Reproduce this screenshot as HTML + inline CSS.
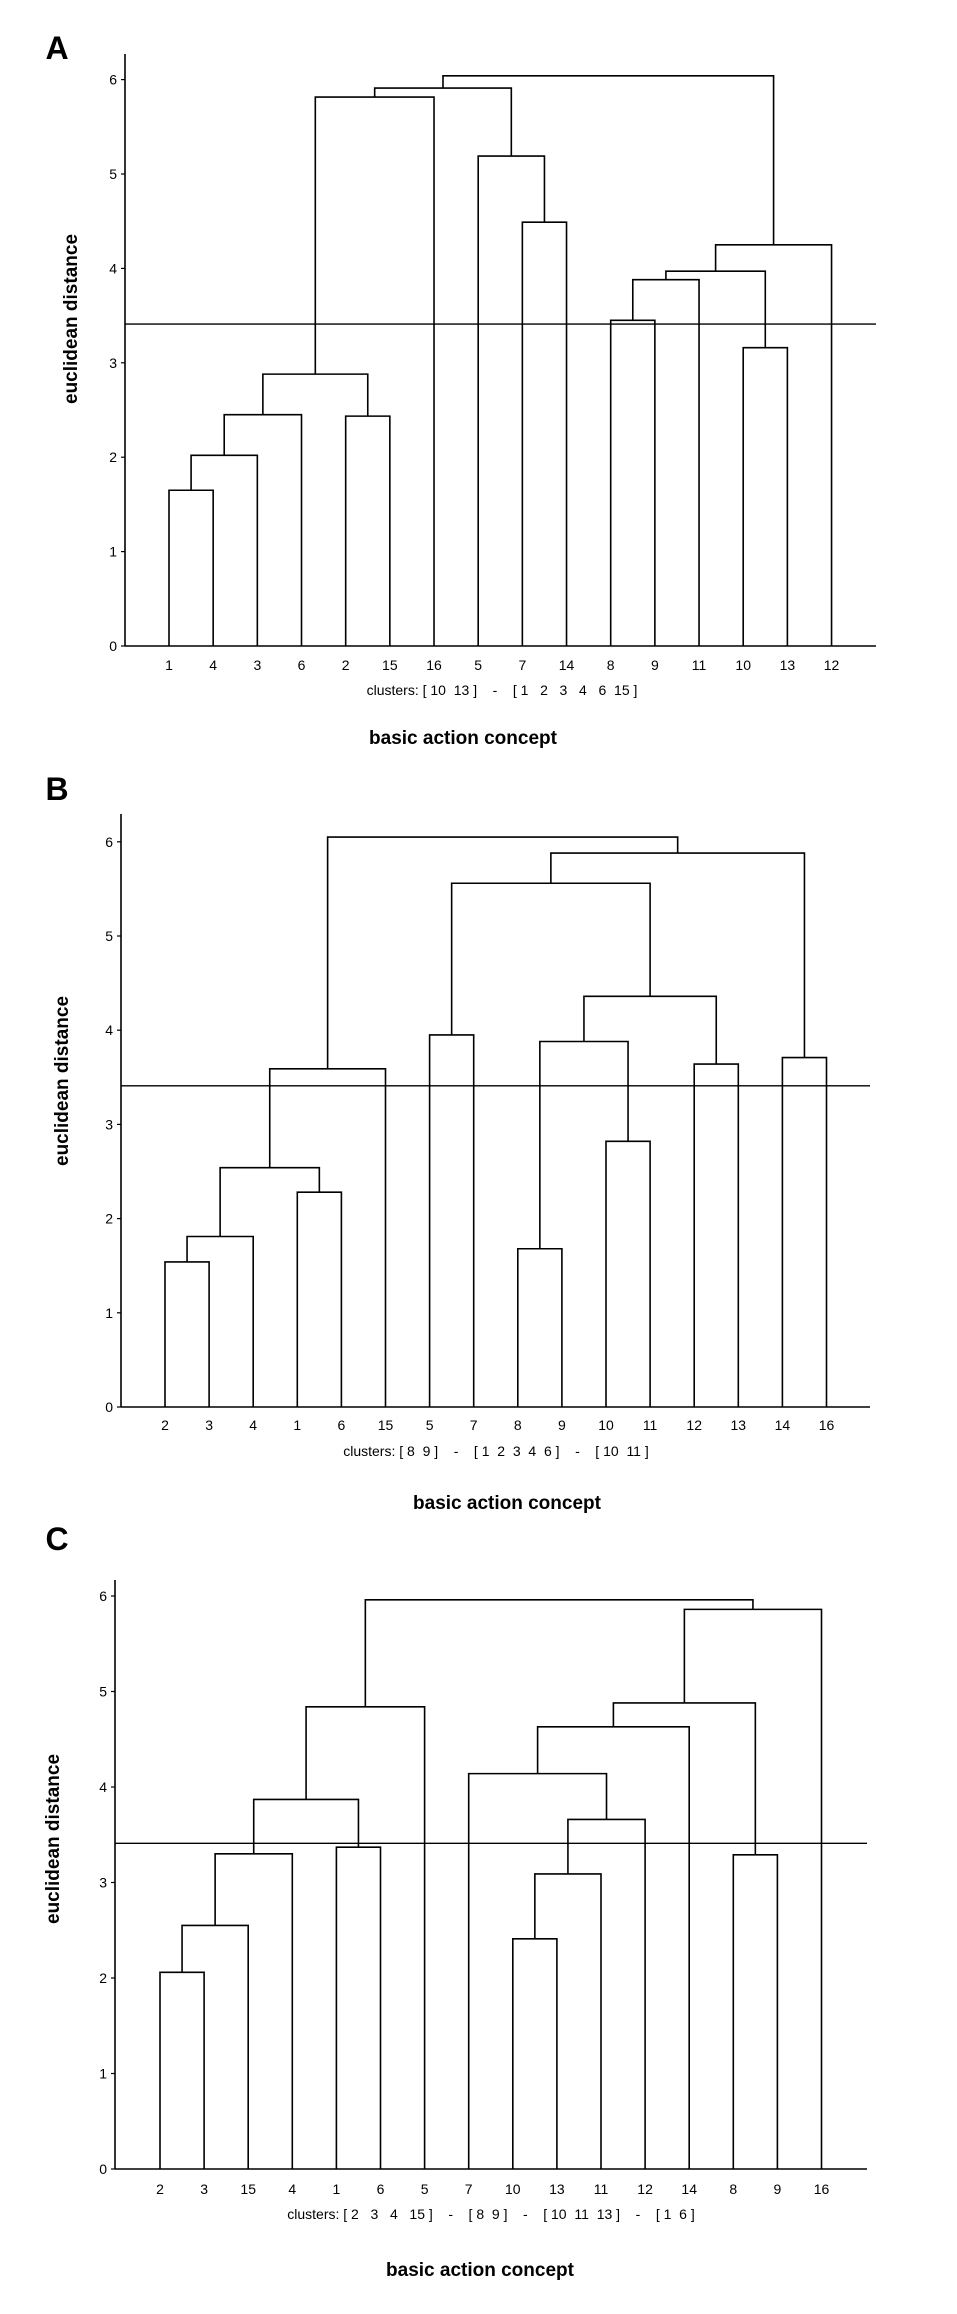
<!DOCTYPE html>
<html><head><meta charset="utf-8">
<style>
html,body{margin:0;padding:0;background:#fff;}
svg{display:block;}
text{font-family:"Liberation Sans",Arial,sans-serif;fill:#000;}
.tick{font-size:14px;}
.leaf{font-size:14px;}
.clu{font-size:14px;white-space:pre;}
.ttl{font-size:19px;font-weight:bold;}
.pl{font-size:32px;font-weight:bold;}
</style></head>
<body>
<svg id="fig" width="957" height="2314" viewBox="0 0 957 2314" xmlns="http://www.w3.org/2000/svg"></svg>
<script>
// ---- Panel A data ----
const aLeaves = [1,4,3,6,2,15,16,5,7,14,8,9,11,10,13,12];
const aPairs = [['L1','L4'],['M0','L3'],['M1','L6'],['L2','L15'],['M2','M3'],['M4','L16'],['L7','L14'],['L5','M6'],['M5','M7'],['L8','L9'],['M9','L11'],['L10','L13'],['M10','M11'],['M12','L12'],['M8','M13']];
const aHeights = [1.65,2.02,2.45,2.435,2.88,5.815,4.49,5.19,5.91,3.45,3.88,3.16,3.97,4.25,6.04];
const aCut = 3.41;
const aTicks = [0,1,2,3,4,5,6];
const aClusters = 'clusters: [ 10  13 ]    -    [ 1   2   3   4   6  15 ]';
// ---- Panel B data ----
const bLeaves = [2,3,4,1,6,15,5,7,8,9,10,11,12,13,14,16];
const bPairs = [['L2','L3'],['M0','L4'],['L1','L6'],['M1','M2'],['M3','L15'],['L5','L7'],['L8','L9'],['L10','L11'],['M6','M7'],['L12','L13'],['M8','M9'],['M5','M10'],['L14','L16'],['M11','M12'],['M4','M13']];
const bHeights = [1.54,1.81,2.28,2.54,3.59,3.95,1.68,2.82,3.88,3.64,4.36,5.56,3.71,5.88,6.05];
const bCut = 3.41;
const bTicks = [0,1,2,3,4,5,6];
const bClusters = 'clusters: [ 8  9 ]    -    [ 1  2  3  4  6 ]    -    [ 10  11 ]';
// ---- Panel C data ----
const cLeaves = [2,3,15,4,1,6,5,7,10,13,11,12,14,8,9,16];
const cPairs = [['L2','L3'],['M0','L15'],['M1','L4'],['L1','L6'],['M2','M3'],['M4','L5'],['L10','L13'],['M6','L11'],['M7','L12'],['L7','M8'],['M9','L14'],['L8','L9'],['M10','M11'],['M12','L16'],['M5','M13']];
const cHeights = [2.06,2.55,3.30,3.37,3.87,4.84,2.41,3.09,3.66,4.14,4.63,3.29,4.88,5.86,5.96];
const cCut = 3.41;
const cTicks = [0,1,2,3,4,5,6];
const cClusters = 'clusters: [ 2   3   4   15 ]    -    [ 8  9 ]    -    [ 10  11  13 ]    -    [ 1  6 ]';

const NS='http://www.w3.org/2000/svg';
const svg=document.getElementById('fig');
function mk(tag,attrs,parent){const e=document.createElementNS(NS,tag);for(const k in attrs)e.setAttribute(k,attrs[k]);(parent||svg).appendChild(e);return e;}

function panel(id,letter,leaves,pairs,heights,cut,ticks,clusters,L){
  const g=mk('g',{});
  
  
  const xLeaf=i=>L.leaf0+i*L.step;
  const yv=v=>L.base-v*L.unit;
  const lt=mk('text',{x:L.letterX,y:L.letterY,'class':'pl','text-anchor':'middle'},g);
  lt.textContent=letter;
  
  
  const ya=mk('line',{x1:L.ax,y1:L.top,x2:L.ax,y2:L.base,stroke:'#000','stroke-width':1.6},g);
  
  
  const xa=mk('line',{x1:L.ax,y1:L.base,x2:L.right,y2:L.base,stroke:'#000','stroke-width':1.6},g);
  
  
  ticks.forEach(t=>{
    const tk=mk('line',{x1:L.ax-4,y1:yv(t),x2:L.ax,y2:yv(t),stroke:'#000','stroke-width':1.2},g);
    
    
    const tl=mk('text',{x:L.ax-8,y:yv(t)+5,'class':'tick','text-anchor':'end'},g);
    tl.textContent=t;
    
    
  });
  const yt=mk('text',{x:0,y:0,'class':'ttl','text-anchor':'middle',transform:'translate('+(L.titleX)+','+L.titleY+') rotate(-90)'},g);
  yt.textContent='euclidean distance';
  
  
  const pos={};
  leaves.forEach((lab,i)=>{
    pos['L'+lab]={x:xLeaf(i),h:0};
    const t=mk('text',{x:xLeaf(i),y:L.leafY,'class':'leaf','text-anchor':'middle'},g);
    t.textContent=lab;
    
    
  });
  pairs.forEach((p,i)=>{
    const a=pos[p[0]],b=pos[p[1]],h=heights[i];
    const d='M'+a.x+','+yv(a.h)+'V'+yv(h)+'H'+b.x+'V'+yv(b.h);
    const pa=mk('path',{d:d,fill:'none',stroke:'#000','stroke-width':1.6},g);
    
    
    pos['M'+i]={x:(a.x+b.x)/2,h:h};
  });
  const cl=mk('line',{x1:L.ax,y1:yv(cut),x2:L.right,y2:yv(cut),stroke:'#000','stroke-width':1.4},g);
  
  
  const ct=mk('text',{x:L.cluX,y:L.cluY,'class':'clu','text-anchor':'middle'},g);
  ct.textContent=clusters;
  
  
  const xt=mk('text',{x:L.xtX,y:L.xtY,'class':'ttl','text-anchor':'middle'},g);
  xt.textContent='basic action concept';
  
  
}
panel('a','A',aLeaves,aPairs,aHeights,aCut,aTicks,aClusters,
 {ax:125,top:54,base:646,unit:94.4,right:876,leaf0:169,step:44.17,leafY:670,cluX:502,cluY:695,xtX:463,xtY:744,titleX:77,titleY:319,letterX:57,letterY:59});
panel('b','B',bLeaves,bPairs,bHeights,bCut,bTicks,bClusters,
 {ax:121,top:814,base:1407,unit:94.2,right:870,leaf0:165,step:44.1,leafY:1430,cluX:496,cluY:1456,xtX:507,xtY:1509,titleX:68,titleY:1081,letterX:57,letterY:800});
panel('c','C',cLeaves,cPairs,cHeights,cCut,cTicks,cClusters,
 {ax:115,top:1580,base:2169,unit:95.5,right:867,leaf0:160,step:44.1,leafY:2194,cluX:491,cluY:2219,xtX:480,xtY:2276,titleX:59,titleY:1839,letterX:57,letterY:1550});
</script>
</body></html>
